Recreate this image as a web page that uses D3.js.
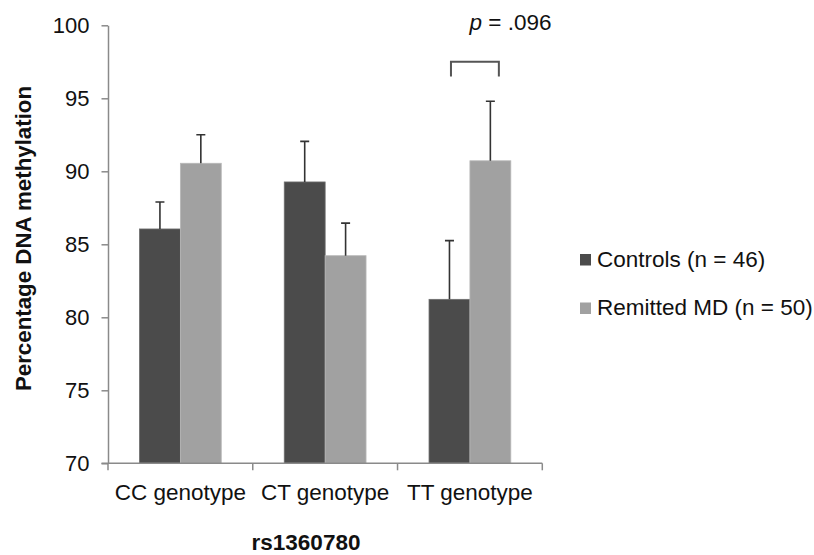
<!DOCTYPE html>
<html>
<head>
<meta charset="utf-8">
<script src="https://cdn.jsdelivr.net/npm/d3@7"></script>
<style>
  body { margin: 0; background: #fff; }
  text { font-family: "Liberation Sans", Arial, sans-serif; fill: #111; }
</style>
</head>
<body>
<div id="chart"></div>
<script>
const genotypes = ["CC genotype", "CT genotype", "TT genotype"];
const groups = ["Controls (n = 46)", "Remitted MD (n = 50)"];
const controlMeans = [86.05, 89.27, 81.23];
const controlErrTop = [87.9, 92.05, 85.25];
const remittedMeans = [90.55, 84.22, 90.72];
const remittedErrTop = [92.5, 86.45, 94.8];
const yTicks = [70, 75, 80, 85, 90, 95, 100];
const colors = ["#4b4b4b", "#a1a1a1"];

const width = 814;
const height = 555;

const svg = d3.select("#chart")
  .append("svg")
  .attr("width", width)
  .attr("height", height);

const y = d3.scaleLinear().domain([70, 100]).range([463.3, 25.3]);
const x0 = d3.scaleBand().domain(genotypes).range([108, 542.3]).padding(0);
const x1 = d3.scaleBand().domain(groups).range([0, x0.bandwidth()]).paddingInner(0).paddingOuter(0.77);

const rows = genotypes.map((g, i) => ({
  genotype: g,
  bars: [
    { group: groups[0], value: controlMeans[i], err: controlErrTop[i], color: colors[0] },
    { group: groups[1], value: remittedMeans[i], err: remittedErrTop[i], color: colors[1] }
  ]
}));

// y axis
const yAxis = svg.append("g")
  .attr("transform", "translate(108,0)")
  .call(d3.axisLeft(y).tickValues(yTicks).tickSize(6.5).tickPadding(12).tickSizeOuter(0));
yAxis.select(".domain").attr("stroke", "#8a8a8a").attr("stroke-width", 1.5);
yAxis.selectAll(".tick line").attr("stroke", "#8a8a8a").attr("stroke-width", 1.5);
yAxis.selectAll(".tick text").attr("font-size", 22).attr("fill", "#111");

// bars
const gRow = svg.append("g").selectAll("g")
  .data(rows)
  .join("g")
  .attr("transform", d => `translate(${x0(d.genotype)},0)`);

gRow.selectAll("rect")
  .data(d => d.bars)
  .join("rect")
  .attr("x", d => x1(d.group))
  .attr("y", d => y(d.value))
  .attr("width", x1.bandwidth())
  .attr("height", d => y(70) - y(d.value))
  .attr("fill", d => d.color)
  .attr("stroke", d => d.color === colors[0] ? "#6e6e6e" : "#b8b8b8")
  .attr("stroke-width", 0.8);

// error bars (upper only)
gRow.selectAll("path.err")
  .data(d => d.bars)
  .join("path")
  .attr("class", "err")
  .attr("fill", "none")
  .attr("stroke", "#333")
  .attr("stroke-width", 1.6)
  .attr("d", d => {
    const cx = x1(d.group) + x1.bandwidth() / 2;
    return `M${cx},${y(d.value)}V${y(d.err)}M${cx - 4.5},${y(d.err)}H${cx + 4.5}`;
  });

// x axis
const xAxis = svg.append("g");
xAxis.append("line")
  .attr("x1", 101.5).attr("x2", x0.range()[1])
  .attr("y1", y(70)).attr("y2", y(70))
  .attr("stroke", "#8a8a8a").attr("stroke-width", 1.5);
const bounds = genotypes.map(g => x0(g)).concat([x0.range()[1]]);
xAxis.selectAll("line.tick")
  .data(bounds)
  .join("line")
  .attr("class", "tick")
  .attr("x1", d => d).attr("x2", d => d)
  .attr("y1", y(70)).attr("y2", y(70) + 7)
  .attr("stroke", "#8a8a8a").attr("stroke-width", 1.5);
xAxis.selectAll("text")
  .data(genotypes)
  .join("text")
  .attr("x", d => x0(d) + x0.bandwidth() / 2)
  .attr("y", 499.5)
  .attr("text-anchor", "middle")
  .attr("font-size", 22.5)
  .text(d => d);

// axis titles
svg.append("text")
  .attr("transform", "translate(30.5,238.5) rotate(-90)")
  .attr("text-anchor", "middle")
  .attr("font-size", 22.3)
  .attr("font-weight", "bold")
  .text("Percentage DNA methylation");

svg.append("text")
  .attr("x", 306)
  .attr("y", 550)
  .attr("text-anchor", "middle")
  .attr("font-size", 22.5)
  .attr("font-weight", "bold")
  .text("rs1360780");

// significance bracket
const tt = rows[2];
const bl = x0(tt.genotype) + x1(groups[0]) + x1.bandwidth() / 2 + 1.5;
const br = x0(tt.genotype) + x1(groups[1]) + x1.bandwidth() / 2 + 8.5;
svg.append("path")
  .attr("fill", "none")
  .attr("stroke", "#555")
  .attr("stroke-width", 2)
  .attr("d", `M${bl},${y(96.5)}V${y(97.5)}H${br}V${y(96.5)}`);

const pText = svg.append("text")
  .attr("x", 469.5)
  .attr("y", 30)
  .attr("font-size", 22.5);
pText.append("tspan").attr("font-style", "italic").text("p");
pText.append("tspan").text(" = .096");

// legend
const legend = svg.append("g").selectAll("g")
  .data(groups)
  .join("g")
  .attr("transform", (d, i) => `translate(580,${254 + i * 48.5})`);
legend.append("rect")
  .attr("width", 11)
  .attr("height", 11.5)
  .attr("fill", (d, i) => colors[i]);
legend.append("text")
  .attr("x", 17)
  .attr("y", 12.5)
  .attr("font-size", 22.5)
  .text(d => d);
</script>
</body>
</html>
